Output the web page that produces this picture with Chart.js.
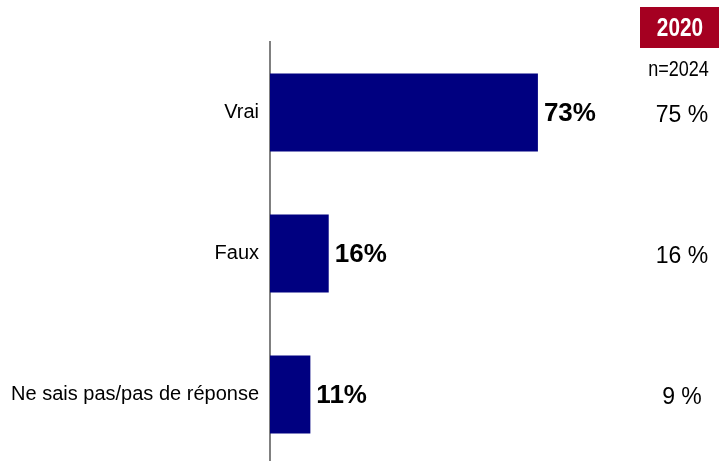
<!DOCTYPE html>
<html><head><meta charset="utf-8">
<script src="https://cdn.jsdelivr.net/npm/chart.js@4"></script>
<style>html,body{margin:0;padding:0;background:#fff;overflow:hidden;height:461px}canvas{display:block}</style>
</head><body><canvas id="c" width="719" height="465"></canvas>
<script>
const categories = ["Vrai", "Faux", "Ne sais pas/pas de réponse"];
const values2024 = [73, 16, 11];
const values2020 = [75, 16, 9];
const headerYear = "2020";
const headerN = "n=2024";

const FONT = "'Liberation Sans', Arial, sans-serif";

function narrowText(ctx, text, x, y, sx) {
  ctx.save();
  ctx.translate(x, y);
  ctx.scale(sx, 1);
  ctx.fillText(text, 0, 0);
  ctx.restore();
}

const sidePlugin = {
  id: 'side',
  afterDatasetsDraw(chart) {
    const ctx = chart.ctx;
    const meta = chart.getDatasetMeta(0);
    ctx.save();
    ctx.fillStyle = '#000';
    ctx.textBaseline = 'middle';
    ctx.textAlign = 'left';
    ctx.font = 'bold 26px ' + FONT;
    meta.data.forEach((bar, i) => {
      ctx.fillText(values2024[i] + '%', bar.x + 6, bar.y + 1);
    });
    const yScale = chart.scales.y;
    ctx.textAlign = 'center';
    ctx.font = '23px ' + FONT;
    values2020.forEach((v, i) => {
      ctx.fillText(v + ' %', 682, yScale.getPixelForValue(i) + 3);
    });
    ctx.fillStyle = '#A50021';
    ctx.fillRect(640, 7, 79, 41);
    ctx.fillStyle = '#fff';
    ctx.font = 'bold 26px ' + FONT;
    narrowText(ctx, headerYear, 680, 28.5, 0.8);
    ctx.fillStyle = '#000';
    ctx.font = '22px ' + FONT;
    narrowText(ctx, headerN, 678.5, 70, 0.82);
    ctx.restore();
  }
};

new Chart(document.getElementById('c'), {
  type: 'bar',
  data: {
    labels: categories,
    datasets: [{
      data: values2024,
      backgroundColor: '#000080',
      borderWidth: 0,
      categoryPercentage: 0.553,
      barPercentage: 1.0
    }]
  },
  options: {
    indexAxis: 'y',
    responsive: false,
    animation: false,
    layout: { padding: { top: 42, right: 82, bottom: 0, left: 0 } },
    plugins: { legend: { display: false }, tooltip: { enabled: false } },
    scales: {
      x: { display: false, min: 0, max: 100 },
      y: {
        afterFit(s) { s.width = 270; s.paddingTop = 0; s.paddingBottom = 0; },
        grid: { display: false, drawTicks: false },
        border: { display: true, color: '#808080', width: 2 },
        ticks: { color: '#000', padding: 11, font: { family: FONT, size: 20 } }
      }
    }
  },
  plugins: [sidePlugin]
});
</script>
</body></html>
